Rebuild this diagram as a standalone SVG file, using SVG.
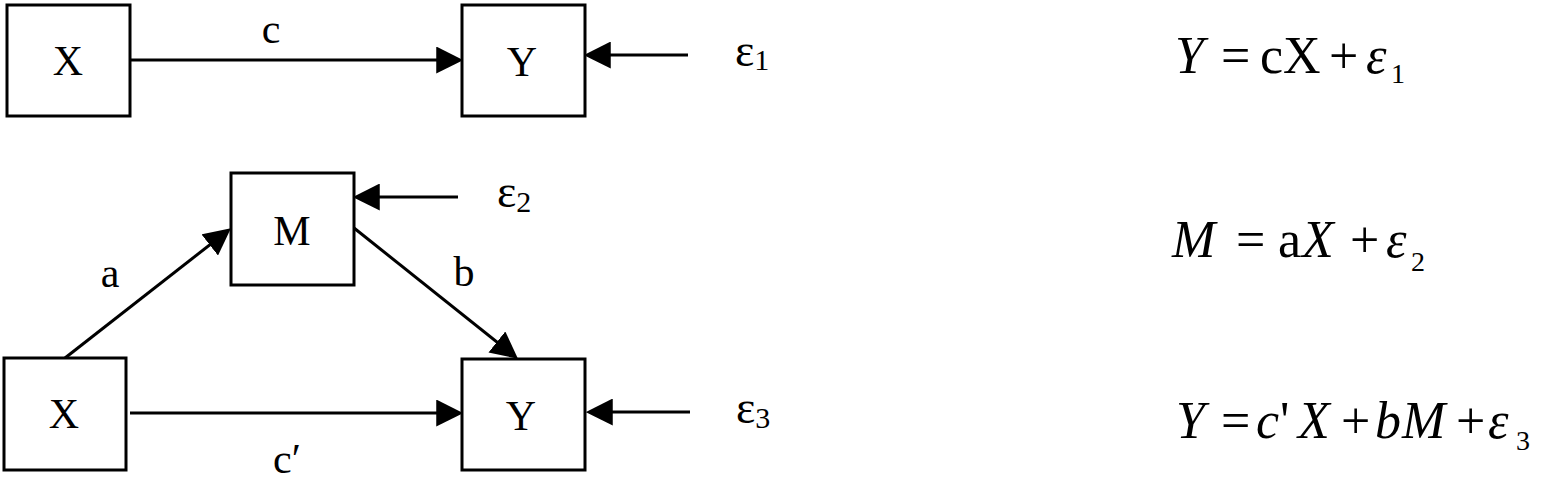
<svg xmlns="http://www.w3.org/2000/svg" width="1559" height="483" viewBox="0 0 1559 483">
<style>
.box{fill:#fff;stroke:#000;stroke-width:3}
.edge{fill:none;stroke:#000;stroke-width:3}
.lbl{font-family:"Liberation Serif",serif;font-size:42px;fill:#000}
.mid{text-anchor:middle}
.eps{font-family:"Liberation Serif",serif;font-size:46px;fill:#000}
.sub{font-size:30px}
.eq{font-family:"Liberation Serif",serif;font-size:52px;fill:#000}
.it{font-style:italic}
.esub{font-size:28px}
</style>
<defs>
<marker id="ah" markerUnits="userSpaceOnUse" markerWidth="27" markerHeight="27" viewBox="0 0 24 24" refX="14" refY="12" orient="auto">
<path d="M0,0 L24,12 L0,24 z" fill="#000"/>
</marker>
</defs>
<rect width="1559" height="483" fill="#fff"/>
<g id="connectors">
<line class="edge" x1="130" y1="60" x2="452" y2="60" marker-end="url(#ah)"/>
<line class="edge" x1="688" y1="55" x2="595" y2="55" marker-end="url(#ah)"/>
<line class="edge" x1="458" y1="197" x2="364" y2="197" marker-end="url(#ah)"/>
<line class="edge" x1="65" y1="358" x2="222.1" y2="235.2" marker-end="url(#ah)"/>
<line class="edge" x1="354" y1="228" x2="509.2" y2="351.8" marker-end="url(#ah)"/>
<line class="edge" x1="130" y1="413" x2="452" y2="413" marker-end="url(#ah)"/>
<line class="edge" x1="690" y1="412" x2="597" y2="412" marker-end="url(#ah)"/>
<text class="lbl mid" x="271" y="43">c</text>
<text class="lbl mid" x="110" y="287">a</text>
<text class="lbl mid" x="464" y="286">b</text>
<text class="lbl mid" x="287" y="473">c′</text>
</g>
<g id="node-x1">
<rect class="box" x="7" y="5" width="123" height="111"/>
<text class="lbl mid" x="68" y="75">X</text>
</g>
<g id="node-y1">
<rect class="box" x="462" y="5" width="123" height="111"/>
<text class="lbl mid" x="522" y="76">Y</text>
</g>
<g id="node-e1">
<text class="eps" x="735" y="66">ε<tspan class="sub" dy="4">1</tspan></text>
</g>
<g id="node-m">
<rect class="box" x="231" y="173" width="123" height="112"/>
<text class="lbl mid" x="292" y="245">M</text>
</g>
<g id="node-e2">
<text class="eps" x="497" y="207">ε<tspan class="sub" dy="5">2</tspan></text>
</g>
<g id="node-x2">
<rect class="box" x="4" y="358" width="122" height="112"/>
<text class="lbl mid" x="64" y="428">X</text>
</g>
<g id="node-y2">
<rect class="box" x="462" y="359" width="123" height="111"/>
<text class="lbl mid" x="521" y="430">Y</text>
</g>
<g id="node-e3">
<text class="eps" x="736" y="423">ε<tspan class="sub" dy="5">3</tspan></text>
</g>
<g id="eq1">
<text class="eq" y="73"><tspan class="it" x="1175">Y</tspan><tspan x="1221">=</tspan><tspan x="1260">c</tspan><tspan x="1283">X</tspan><tspan x="1329">+</tspan><tspan class="it" x="1366">ε</tspan><tspan class="esub" x="1391" y="83">1</tspan></text>
</g>
<g id="eq2">
<text class="eq" y="257"><tspan class="it" x="1172">M</tspan><tspan x="1236">=</tspan><tspan x="1278">a</tspan><tspan class="it" x="1302">X</tspan><tspan x="1350">+</tspan><tspan class="it" x="1386">ε</tspan><tspan class="esub" x="1411" y="271">2</tspan></text>
</g>
<g id="eq3">
<text class="eq" y="438"><tspan class="it" x="1176">Y</tspan><tspan x="1221">=</tspan><tspan class="it" x="1256">c</tspan><tspan x="1280">'</tspan><tspan class="it" x="1298">X</tspan><tspan x="1341">+</tspan><tspan class="it" x="1375">b</tspan><tspan class="it" x="1402">M</tspan><tspan x="1456">+</tspan><tspan class="it" x="1488">ε</tspan><tspan class="esub" x="1516" y="450">3</tspan></text>
</g>
</svg>
